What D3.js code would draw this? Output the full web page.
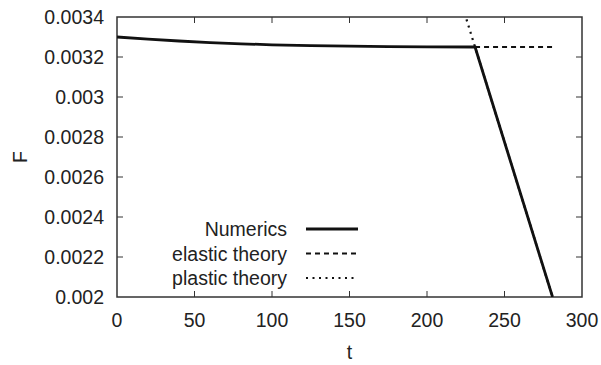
<!DOCTYPE html>
<html>
<head>
<meta charset="utf-8">
<script src="https://cdn.jsdelivr.net/npm/d3@7"></script>
<style>
  body { margin: 0; background: #fff; }
  text { font-family: "Liberation Sans", Arial, sans-serif; fill: #222; }
</style>
</head>
<body>
<div id="chart"></div>
<script>
// data
const numericsT = [0, 20, 40, 60, 80, 100, 125, 150, 175, 200, 231, 281];
const numericsF = [0.00330, 0.003289, 0.003280, 0.003272, 0.003266, 0.003261, 0.003257, 0.003254, 0.003252, 0.003251, 0.00325, 0.002];
const elasticT = [231, 281];
const elasticF = [0.00325, 0.00325];
const plasticT = [223, 281];
const plasticF = [0.00345, 0.002];
const xTicks = [0, 50, 100, 150, 200, 250, 300];
const yTicks = [0.002, 0.0022, 0.0024, 0.0026, 0.0028, 0.003, 0.0032, 0.0034];
const legendLabels = ['Numerics', 'elastic theory', 'plastic theory'];

const width = 601, height = 365;
const margin = { left: 117, right: 19, top: 17, bottom: 68 };
const fontSize = 19.5;

const svg = d3.select('#chart').append('svg')
  .attr('width', width)
  .attr('height', height);

const x = d3.scaleLinear().domain([0, 300]).range([margin.left, width - margin.right]);
const y = d3.scaleLinear().domain([0.002, 0.0034]).range([height - margin.bottom, margin.top]);

svg.append('defs').append('clipPath').attr('id', 'clip')
  .append('rect')
  .attr('x', x(0)).attr('y', y(0.0034))
  .attr('width', x(300) - x(0)).attr('height', y(0.002) - y(0.0034));

const tickLen = 6;

// ticks (mirrored on all four sides, pointing in)
const tickG = svg.append('g').attr('stroke', '#333').attr('stroke-width', 1);
xTicks.slice(1, -1).forEach(t => {
  tickG.append('line').attr('x1', x(t)).attr('x2', x(t)).attr('y1', y(0.002)).attr('y2', y(0.002) - tickLen);
  tickG.append('line').attr('x1', x(t)).attr('x2', x(t)).attr('y1', y(0.0034)).attr('y2', y(0.0034) + tickLen);
});
yTicks.slice(1, -1).forEach(v => {
  tickG.append('line').attr('x1', x(0)).attr('x2', x(0) + tickLen).attr('y1', y(v)).attr('y2', y(v));
  tickG.append('line').attr('x1', x(300)).attr('x2', x(300) - tickLen).attr('y1', y(v)).attr('y2', y(v));
});

// frame
svg.append('rect')
  .attr('x', x(0)).attr('y', y(0.0034))
  .attr('width', x(300) - x(0)).attr('height', y(0.002) - y(0.0034))
  .attr('fill', 'none').attr('stroke', '#333').attr('stroke-width', 1.5);

// tick labels
svg.append('g').selectAll('text')
  .data(xTicks).enter().append('text')
  .attr('x', d => x(d))
  .attr('y', y(0.002) + 30)
  .attr('text-anchor', 'middle')
  .style('font-size', fontSize + 'px')
  .text(d => d);

svg.append('g').selectAll('text')
  .data(yTicks).enter().append('text')
  .attr('x', x(0) - 13)
  .attr('y', d => y(d) + 7)
  .attr('text-anchor', 'end')
  .style('font-size', fontSize + 'px')
  .text(d => String(+d.toFixed(4)));

// axis titles
svg.append('text')
  .attr('x', (x(0) + x(300)) / 2)
  .attr('y', 359)
  .attr('text-anchor', 'middle')
  .style('font-size', fontSize + 'px')
  .text('t');

svg.append('text')
  .attr('transform', `translate(27,${(y(0.002) + y(0.0034)) / 2}) rotate(-90)`)
  .attr('text-anchor', 'middle')
  .style('font-size', fontSize + 'px')
  .text('F');

// lines
const line = d3.line().x(d => x(d[0])).y(d => y(d[1]));
const plot = svg.append('g').attr('clip-path', 'url(#clip)');

const styles = [
  { dash: null, width: 2.8 },
  { dash: '5,4', width: 2.2 },
  { dash: '2,4.5', width: 2.2 }
];

plot.append('path')
  .datum(plasticT.map((t, i) => [t, plasticF[i]]))
  .attr('d', line).attr('fill', 'none').attr('stroke', '#111')
  .attr('stroke-width', styles[2].width).attr('stroke-dasharray', styles[2].dash);

plot.append('path')
  .datum(elasticT.map((t, i) => [t, elasticF[i]]))
  .attr('d', line).attr('fill', 'none').attr('stroke', '#111')
  .attr('stroke-width', styles[1].width).attr('stroke-dasharray', styles[1].dash);

plot.append('path')
  .datum(numericsT.map((t, i) => [t, numericsF[i]]))
  .attr('d', line)
  .attr('fill', 'none').attr('stroke', '#111')
  .attr('stroke-width', styles[0].width);

// legend
const legend = svg.append('g');
legendLabels.forEach((label, i) => {
  const ly = 229 + i * 24.5;
  legend.append('text')
    .attr('x', 287).attr('y', ly + 7)
    .attr('text-anchor', 'end')
    .style('font-size', fontSize + 'px')
    .text(label);
  legend.append('line')
    .attr('x1', 306).attr('x2', 358)
    .attr('y1', ly).attr('y2', ly)
    .attr('stroke', '#111')
    .attr('stroke-width', styles[i].width)
    .attr('stroke-dasharray', styles[i].dash);
});
</script>
</body>
</html>
